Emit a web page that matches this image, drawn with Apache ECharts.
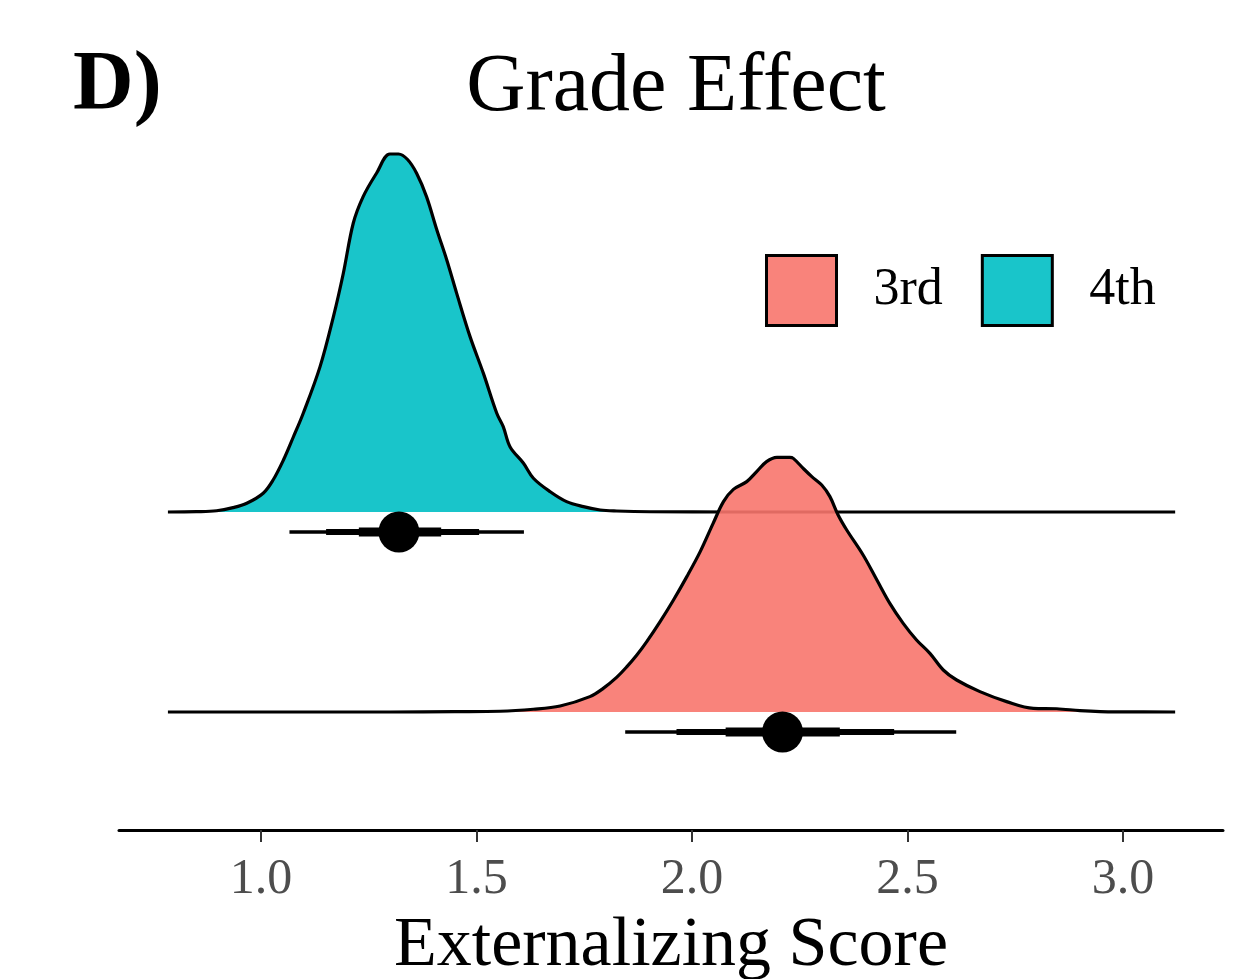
<!DOCTYPE html>
<html><head><meta charset="utf-8">
<script src="https://cdn.jsdelivr.net/npm/echarts@6/dist/echarts.min.js"></script>
<style>html,body{margin:0;padding:0;background:#fff}#c{width:1252px;height:979px}</style>
</head><body><div id="c"></div>
<script>
// ---- data ----
const groups = ['3rd', '4th'];
const xTicks = [1.0, 1.5, 2.0, 2.5, 3.0];

// density of the 4th-grade posterior
const x4th = [0.784, 0.850, 0.897, 0.935, 0.967, 1.005, 1.028, 1.052, 1.075, 1.098, 1.137, 1.168, 1.191, 1.214, 1.237, 1.268, 1.299, 1.319, 1.340, 1.361, 1.384, 1.408, 1.431, 1.454, 1.485, 1.516, 1.547, 1.562, 1.578, 1.609, 1.632, 1.671, 1.709, 1.748, 1.787, 1.825, 1.903, 2.100, 2.500, 3.121];
const d4th = [0.000, 0.003, 0.010, 0.035, 0.070, 0.150, 0.256, 0.416, 0.600, 0.790, 1.163, 1.563, 1.910, 2.310, 2.523, 2.710, 2.864, 2.864, 2.820, 2.710, 2.523, 2.256, 2.016, 1.749, 1.403, 1.109, 0.790, 0.683, 0.520, 0.390, 0.270, 0.162, 0.083, 0.043, 0.016, 0.008, 0.002, 0.000, 0.000, 0.000];

// density of the 3rd-grade posterior
const x3rd = [0.784, 1.300, 1.450, 1.555, 1.632, 1.694, 1.763, 1.794, 1.825, 1.849, 1.872, 1.895, 1.926, 1.957, 1.988, 2.019, 2.049, 2.073, 2.096, 2.127, 2.150, 2.173, 2.197, 2.227, 2.235, 2.258, 2.278, 2.301, 2.320, 2.339, 2.359, 2.397, 2.429, 2.459, 2.490, 2.521, 2.552, 2.583, 2.614, 2.668, 2.730, 2.792, 2.846, 2.900, 2.947, 3.000, 3.121];
const d3rd = [0.000, 0.000, 0.003, 0.006, 0.022, 0.048, 0.123, 0.189, 0.277, 0.363, 0.456, 0.563, 0.723, 0.896, 1.083, 1.283, 1.509, 1.683, 1.781, 1.843, 1.923, 2.003, 2.037, 2.037, 2.029, 1.949, 1.883, 1.816, 1.723, 1.576, 1.456, 1.256, 1.056, 0.869, 0.709, 0.576, 0.469, 0.336, 0.256, 0.163, 0.083, 0.029, 0.026, 0.011, 0.003, 0.001, 0.000];

// point + intervals (median, 50%, 80%, 95%)
const median3rd = 2.210;
const ci50_3rd = [2.078, 2.343];
const ci80_3rd = [1.964, 2.469];
const ci95_3rd = [1.845, 2.613];
const median4th = 1.320;
const ci50_4th = [1.227, 1.418];
const ci80_4th = [1.151, 1.506];
const ci95_4th = [1.066, 1.610];

// ---- layout ----
const base = {'3rd': 1, '4th': 2};   // ridge baselines
const dScale = 0.625;                 // density -> ridge units
const ptOffset = 0.1;                 // point interval below baseline
const FONT = '"Liberation Serif", "DejaVu Serif", serif';
const fill = {'3rd': 'rgba(248,118,109,0.9)', '4th': 'rgba(0,191,196,0.9)'};

function ridge(name, xs, ds) {
  return {
    name: name, type: 'line', symbol: 'none', smooth: 0.35, silent: true,
    data: xs.map((x, i) => [x, base[name] + ds[i] * dScale]),
    itemStyle: {color: fill[name]},
    lineStyle: {color: '#000', width: 3.2},
    areaStyle: {color: fill[name], origin: base[name], opacity: 1},
    z: name === '4th' ? 2 : 3
  };
}
function seg(ci, name, w) {
  const y = base[name] - ptOffset;
  return {
    type: 'line', symbol: 'none', silent: true, z: 5,
    data: [[ci[0], y], [ci[1], y]],
    lineStyle: {color: '#000', width: w, cap: 'butt'}
  };
}
function pt(m, name) {
  return {
    type: 'scatter', silent: true, z: 6, symbolSize: 41,
    itemStyle: {color: '#000', opacity: 1},
    data: [[m, base[name] - ptOffset]]
  };
}

const option = {
  animation: false,
  backgroundColor: '#fff',
  title: [
    {text: 'D)', left: 68, top: 40, textStyle: {fontFamily: FONT, fontSize: 84, fontWeight: 'bold', color: '#000'}},
    {text: 'Grade Effect', left: 671, top: 42, textAlign: 'center', textStyle: {fontFamily: FONT, fontSize: 82, fontWeight: 'normal', color: '#000'}}
  ],
  legend: {
    data: groups.map(g => ({name: g, itemStyle: {color: fill[g], borderColor: '#000', borderWidth: 3}})),
    icon: 'rect', left: 765, top: 254, padding: 0, itemWidth: 70, itemHeight: 70, itemGap: 38,
    textStyle: {fontFamily: FONT, fontSize: 52, color: '#000', padding: [0, 0, 0, 32]},
    selectedMode: false
  },
  grid: {left: 119, right: 29, top: 130, bottom: 149, containLabel: false, outerBoundsMode: 'none'},
  xAxis: {
    type: 'value', min: 0.6705, max: 3.232,
    name: 'Externalizing Score', nameLocation: 'middle', nameGap: 82,
    nameTextStyle: {fontFamily: FONT, fontSize: 70, color: '#000'},
    splitLine: {show: false},
    axisLine: {show: true, lineStyle: {color: '#000', width: 3}},
    axisTick: {show: true, length: 12, customValues: xTicks, lineStyle: {color: '#333', width: 2}},
    axisLabel: {customValues: xTicks, margin: 25, formatter: v => v.toFixed(1), fontFamily: FONT, fontSize: 50, color: '#4D4D4D'}
  },
  yAxis: {type: 'value', min: 0.41, max: 3.91, show: false, splitLine: {show: false}},
  series: [
    ridge('4th', x4th, d4th),
    ridge('3rd', x3rd, d3rd),
    seg(ci95_4th, '4th', 3.5), seg(ci80_4th, '4th', 6), seg(ci50_4th, '4th', 9), pt(median4th, '4th'),
    seg(ci95_3rd, '3rd', 3.5), seg(ci80_3rd, '3rd', 6), seg(ci50_3rd, '3rd', 9), pt(median3rd, '3rd')
  ]
};
const chart = echarts.init(document.getElementById('c'), null, {renderer: 'canvas'});
chart.setOption(option);
</script>
</body></html>
